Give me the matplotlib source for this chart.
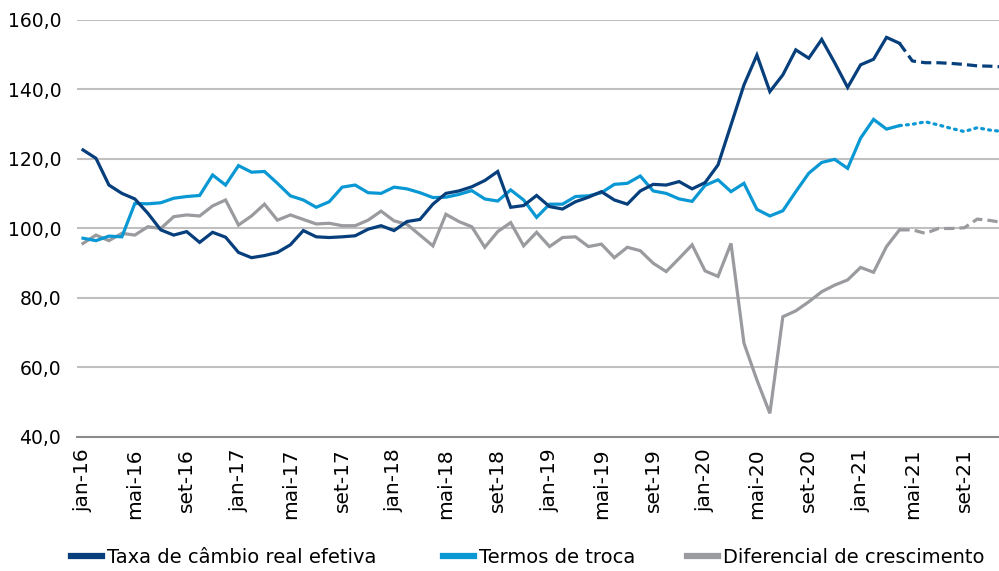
import matplotlib
matplotlib.use("Agg")
import matplotlib.pyplot as plt
from matplotlib.lines import Line2D
from matplotlib.ticker import FuncFormatter

plt.rcParams['font.family'] = ['Liberation Sans Narrow', 'DejaVu Sans']

meses = ['jan', 'fev', 'mar', 'abr', 'mai', 'jun', 'jul', 'ago', 'set', 'out', 'nov', 'dez']
anos = ['16', '17', '18', '19', '20', '21']
categorias = [m + '-' + a for a in anos for m in meses]

# ultimo dado observado (abr-21); depois disso, projecao
ultimo_obs = 63

taxa_cambio = [
    122.6, 120.2, 112.5, 110.1, 108.5, 104.4, 99.6, 98.1, 99.1, 96.0, 98.9, 97.5,
    93.1, 91.6, 92.2, 93.1, 95.3, 99.4, 97.6, 97.4, 97.6, 97.9, 99.8, 100.8,
    99.4, 102.0, 102.6, 107.0, 110.1, 110.8, 112.0, 113.8, 116.4, 106.1, 106.6, 109.5,
    106.3, 105.6, 107.7, 109.0, 110.6, 108.2, 107.0, 110.8, 112.7, 112.5, 113.5, 111.4,
    113.2, 118.3, 129.8, 141.3, 149.9, 139.4, 144.2, 151.4, 149.0, 154.4, 147.7, 140.6,
    147.1, 148.7, 155.0, 153.3, 148.2, 147.7, 147.7, 147.5, 147.2, 146.8, 146.7, 146.5,
]

termos_troca = [
    97.2, 96.5, 97.8, 97.6, 107.2, 107.1, 107.4, 108.7, 109.2, 109.5, 115.4, 112.5,
    118.1, 116.2, 116.4, 113.0, 109.4, 108.2, 106.1, 107.7, 111.9, 112.5, 110.3, 110.1,
    111.9, 111.4, 110.3, 108.9, 109.0, 109.8, 110.9, 108.5, 107.9, 111.1, 108.2, 103.2,
    107.0, 107.0, 109.2, 109.4, 110.3, 112.7, 113.0, 115.1, 110.8, 110.1, 108.5, 107.8,
    112.4, 114.0, 110.6, 113.0, 105.5, 103.6, 105.1, 110.6, 115.9, 119.0, 119.9, 117.3,
    126.0, 131.4, 128.6, 129.6, 130.0, 130.7, 129.8, 128.8, 127.9, 129.0, 128.3, 127.9,
]

diferencial = [
    95.7, 98.1, 96.5, 98.6, 98.1, 100.5, 100.0, 103.4, 103.9, 103.6, 106.5, 108.2,
    101.0, 103.6, 107.0, 102.4, 103.9, 102.6, 101.3, 101.5, 100.8, 100.8, 102.4, 105.0,
    102.2, 101.2, 98.1, 95.0, 104.1, 102.0, 100.5, 94.6, 99.1, 101.7, 95.0, 98.9,
    94.8, 97.4, 97.6, 94.8, 95.5, 91.6, 94.6, 93.6, 90.0, 87.6, 91.4, 95.3,
    87.8, 86.2, 95.7, 67.0, 56.4, 46.8, 74.6, 76.3, 78.9, 81.8, 83.7, 85.2,
    88.8, 87.4, 94.8, 99.6, 99.6, 98.6, 100.0, 100.0, 100.2, 102.7, 102.3, 101.7,
]

c_taxa = '#063f7c'
c_termos = '#0998d4'
c_dif = '#9a9b9f'
lw = 2.3

fig = plt.figure(figsize=(9.99, 5.71), dpi=100)
ax = fig.add_axes([0.0766, 0.2347, 0.9234, 0.7303])

x = list(range(len(categorias)))
xo = x[:ultimo_obs + 1]
xp = x[ultimo_obs:]

ax.plot(xo, diferencial[:ultimo_obs + 1], color=c_dif, lw=lw, solid_joinstyle='miter')
ax.plot(xp, diferencial[ultimo_obs:], color=c_dif, lw=lw, linestyle=(0, (3.2, 1.6)))
ax.plot(xo, termos_troca[:ultimo_obs + 1], color=c_termos, lw=lw, solid_joinstyle='miter')
ax.plot(xp, termos_troca[ultimo_obs:], color=c_termos, lw=lw, linestyle=(0, (0.6, 1.6)),
        dash_capstyle='round')
ax.plot(xo, taxa_cambio[:ultimo_obs + 1], color=c_taxa, lw=lw, solid_joinstyle='miter')
ax.plot(xp, taxa_cambio[ultimo_obs:], color=c_taxa, lw=lw, linestyle=(0, (3.2, 1.6)))

ax.set_ylim(40, 160)
ax.set_yticks(range(40, 161, 20))
ax.yaxis.set_major_formatter(FuncFormatter(lambda v, p: f'{v:.1f}'.replace('.', ',')))
ax.set_xlim(-0.5, 70.68)
ax.set_xticks(x[::4])
ax.set_xticklabels(categorias[::4], rotation=90)

ax.grid(axis='y', color='#c0c0c0', lw=1.5)
ax.set_axisbelow(True)
for s in ['top', 'right', 'left']:
    ax.spines[s].set_visible(False)
ax.spines['bottom'].set_color('#8c8c8c')
ax.spines['bottom'].set_linewidth(1.5)
ax.tick_params(axis='both', length=0, colors='black')
ax.tick_params(axis='y', pad=11, labelsize=13.5)
ax.tick_params(axis='x', pad=8, labelsize=14.5)

entradas = [
    ('Taxa de câmbio real efetiva', c_taxa, 0.071),
    ('Termos de troca', c_termos, 0.443),
    ('Diferencial de crescimento', c_dif, 0.688),
]
for nome, cor, xpos in entradas:
    h = Line2D([], [], color=cor, lw=4.5)
    fig.legend(handles=[h], labels=[nome], loc='center left', bbox_to_anchor=(xpos, 0.024),
               frameon=False, fontsize=14, handlelength=1.6, handletextpad=0.25,
               borderaxespad=0, borderpad=0)

fig.savefig('out.png', dpi=100)
